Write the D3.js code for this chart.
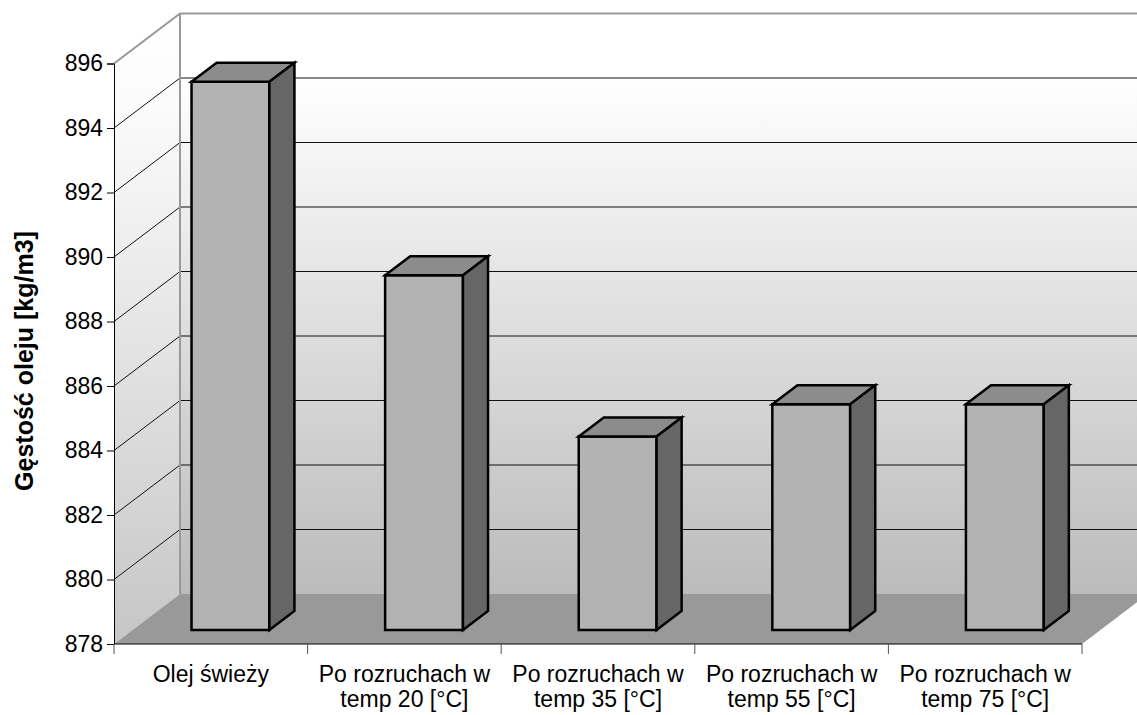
<!DOCTYPE html>
<html>
<head>
<meta charset="utf-8">
<script src="https://cdn.jsdelivr.net/npm/d3@7"></script>
<style>
  html, body { margin: 0; padding: 0; background: #fff; }
  svg { display: block; font-family: "Liberation Sans", Arial, sans-serif; }
</style>
</head>
<body>
<svg id="chart" width="1137" height="715"></svg>
<script>
// Oil density before and after warm-up runs
const categories = [
  ["Olej świeży"],
  ["Po rozruchach w", "temp 20 [°C]"],
  ["Po rozruchach w", "temp 35 [°C]"],
  ["Po rozruchach w", "temp 55 [°C]"],
  ["Po rozruchach w", "temp 75 [°C]"]
];
const values = [895, 889, 884, 885, 885];
const yTicks = [878, 880, 882, 884, 886, 888, 890, 892, 894, 896];
const yTitle = "Gęstość oleju [kg/m3]";

const svg = d3.select("#chart");

// 3D projection: depth z in [0,1] shifts points right and up
const DX = 66, DY = 50;
const x = d3.scaleBand().domain(d3.range(categories.length)).range([114, 1082]).padding(0);
const y = d3.scaleLinear().domain([878, 896]).range([644, 63.5]);
const P = (px, v, z) => [px + z * DX, y(v) - z * DY];

const [y0, y1] = y.domain();
const xL = x.range()[0], xR = x.range()[1];

const defs = svg.append("defs");
const gBack = defs.append("linearGradient").attr("id", "gBack")
  .attr("gradientUnits", "userSpaceOnUse").attr("x1", 0).attr("x2", 0)
  .attr("y1", P(0, y1, 1)[1]).attr("y2", P(0, y0, 1)[1]);
gBack.append("stop").attr("offset", 0).attr("stop-color", "#ffffff");
gBack.append("stop").attr("offset", 0.11).attr("stop-color", "#ffffff");
gBack.append("stop").attr("offset", 1).attr("stop-color", "#bbbbbb");

const gLeft = defs.append("linearGradient").attr("id", "gLeft")
  .attr("gradientUnits", "userSpaceOnUse").attr("x1", 0).attr("x2", 0)
  .attr("y1", P(0, y1, 1)[1]).attr("y2", P(0, y0, 0)[1]);
gLeft.append("stop").attr("offset", 0).attr("stop-color", "#ffffff");
gLeft.append("stop").attr("offset", 0.15).attr("stop-color", "#fbfbfb");
gLeft.append("stop").attr("offset", 1).attr("stop-color", "#c6c6c6");

const poly = pts => "M" + pts.map(p => p.join(",")).join("L") + "Z";
const line = d3.line();

// back wall
svg.append("path")
  .attr("d", poly([P(xL, y1, 1), P(xR, y1, 1), P(xR, y0, 1), P(xL, y0, 1)]))
  .attr("fill", "url(#gBack)");
// left wall
svg.append("path")
  .attr("d", poly([P(xL, y1, 0), P(xL, y1, 1), P(xL, y0, 1), P(xL, y0, 0)]))
  .attr("fill", "url(#gLeft)");

// gridlines on back and left walls
const inner = yTicks.filter(t => t > y0 && t < y1);
svg.append("g").selectAll("path").data(inner).join("path")
  .attr("d", t => line([P(xL, t, 1), P(xR, t, 1)]))
  .attr("stroke", "#111").attr("stroke-width", 1).attr("fill", "none");
svg.append("g").selectAll("path").data(inner).join("path")
  .attr("d", t => line([P(xL, t, 0), P(xL, t, 1)]))
  .attr("stroke", "#111").attr("stroke-width", 1).attr("fill", "none");

// floor
svg.append("path")
  .attr("d", poly([P(xL, y0, 0), P(xR, y0, 0), P(xR, y0, 1), P(xL, y0, 1)]))
  .attr("fill", "#999999");

// wall edges
svg.append("path")
  .attr("d", line([P(xL, y1, 0), P(xL, y1, 1), P(xR, y1, 1)]))
  .attr("stroke", "#999999").attr("stroke-width", 2).attr("fill", "none");
svg.append("path")
  .attr("d", line([P(xL, y1, 1), P(xL, y0, 1)]))
  .attr("stroke", "#999999").attr("stroke-width", 2).attr("fill", "none");

// bars
const z0 = 0.28, z1 = 0.66;
const bw = x.bandwidth() * 0.402, boff = x.bandwidth() * 0.305;
const bars = svg.append("g").selectAll("g").data(values).join("g");
const stroke = g => g.attr("stroke", "#000").attr("stroke-width", 2.5).attr("stroke-linejoin", "miter");
bars.append("path")
  .attr("d", (v, i) => { const a = x(i) + boff, b = a + bw;
    return poly([P(a, y0, z0), P(b, y0, z0), P(b, v, z0), P(a, v, z0)]); })
  .attr("fill", "#b3b3b3").call(stroke);
bars.append("path")
  .attr("d", (v, i) => { const a = x(i) + boff, b = a + bw;
    return poly([P(a, v, z0), P(b, v, z0), P(b, v, z1), P(a, v, z1)]); })
  .attr("fill", "#8c8c8c").call(stroke);
bars.append("path")
  .attr("d", (v, i) => { const b = x(i) + boff + bw;
    return poly([P(b, y0, z0), P(b, y0, z1), P(b, v, z1), P(b, v, z0)]); })
  .attr("fill", "#666666").call(stroke);

// y axis
const yAxis = svg.append("g").attr("transform", `translate(${xL},0)`)
  .call(d3.axisLeft(y).tickValues(yTicks).tickSize(7).tickPadding(4).tickFormat(d3.format("d")));
yAxis.select(".domain").attr("stroke", "#000").attr("stroke-width", 1);
yAxis.selectAll(".tick line").attr("stroke", "#000");
yAxis.selectAll("text").attr("font-size", 23).attr("fill", "#000")
  .attr("font-family", "'Liberation Sans', Arial, sans-serif");

// x axis: line, boundary ticks, two-line labels
const xg = svg.append("g");
xg.append("path").attr("d", line([[xL, y(y0)], [xR, y(y0)]]))
  .attr("stroke", "#000").attr("stroke-width", 1);
const bounds = d3.range(categories.length + 1).map(i => i < categories.length ? x(i) : xR);
xg.selectAll("path.tk").data(bounds).join("path")
  .attr("d", b => line([[b, y(y0)], [b, y(y0) + 10]]))
  .attr("stroke", "#555").attr("stroke-width", 1);
const lab = xg.selectAll("text").data(categories).join("text")
  .attr("text-anchor", "middle").attr("font-size", 23).attr("fill", "#000");
lab.selectAll("tspan").data((d, i) => d.map(s => ({ s, i }))).join("tspan")
  .attr("x", d => x(d.i) + x.bandwidth() / 2)
  .attr("y", (d, j) => 682 + j * 25)
  .text(d => d.s);

// y axis title
svg.append("text")
  .attr("transform", `translate(33,361) rotate(-90)`)
  .attr("text-anchor", "middle").attr("font-size", 25).attr("font-weight", "bold")
  .attr("fill", "#000").text(yTitle);
</script>
</body>
</html>
